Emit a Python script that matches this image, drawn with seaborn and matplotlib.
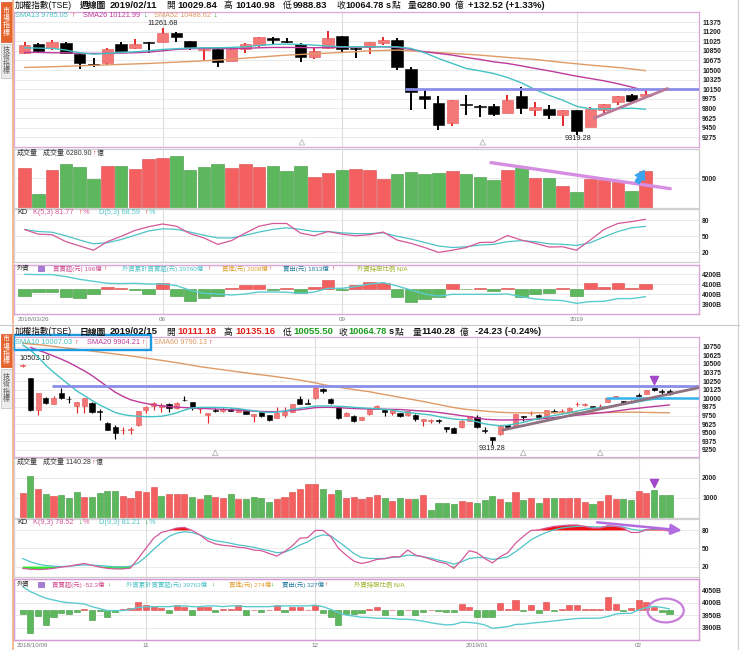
import numpy as np
import matplotlib
matplotlib.use("Agg")
import matplotlib.pyplot as plt
from matplotlib.patches import Rectangle, Ellipse
from matplotlib.lines import Line2D
import matplotlib.transforms as mtrans
import seaborn as sns

# ======================= WEEKLY (週線圖) DATA =======================
w_open = [10815, 10973, 10906, 10997, 10790, 10607, 10620, 10973, 10894, 11009,
          11015, 11180, 11028, 10857, 10875, 10668, 10875, 10961, 11089, 11016,
          10967, 10741, 10900, 11119, 10894, 10924, 10985, 11046, 10522, 10023,
          9901, 9536, 9883, 9846, 9840, 9719, 10023, 9767, 9798, 9676,
          9767, 9463, 9767, 9919, 10053, 10029.84]
w_high = [11010, 10997, 11040, 11015, 10802, 10723, 10906, 11003, 11064, 11012,
          11261.68, 11192, 11035, 10878, 10912, 10895, 10997, 11107, 11107, 11089,
          10985, 10894, 11204, 11125, 10894, 11009, 11095, 11083, 10547, 10163,
          10023, 9950, 10053, 9859, 9877, 10041, 10193, 9919, 9859, 9773,
          9773, 9828, 9880, 10030, 10060, 10140.98]
w_low = [10797, 10802, 10863, 10802, 10522, 10547, 10595, 10845, 10881, 10815,
         11010, 11009, 10863, 10681, 10559, 10660, 10802, 10924, 10961, 10985,
         10644, 10705, 10875, 10827, 10711, 10790, 10961, 10498, 9779, 9797,
         9414, 9475, 9676, 9645, 9658, 9710, 9706, 9658, 9615, 9475,
         9319.28, 9457, 9706, 9859, 9920, 9988.83]
w_close = [10955, 10851, 11003, 10815, 10620, 10583, 10888, 10851, 10973, 10990,
           11168, 11107, 10924, 10875, 10650, 10888, 10967, 11095, 11046, 11009,
           10741, 10851, 11083, 10875, 10888, 11003, 11046, 10559, 10102, 9980,
           9493, 9950, 9871, 9840, 9706, 9950, 9810, 9828, 9676, 9767,
           9390, 9786, 9877, 10023, 9932, 10064.78]
w_sma13 = [10906, 10900, 10894, 10864, 10815, 10790, 10803, 10821, 10833, 10851,
           10876, 10888, 10900, 10906, 10906, 10912, 10924, 10949, 10967, 10973,
           10967, 10955, 10937, 10924, 10924, 10924, 10924, 10924, 10894, 10815,
           10711, 10620, 10529, 10486, 10437, 10364, 10267, 10145, 10041, 9950,
           9840, 9792, 9792, 9798, 9805, 9785.05]
w_sma26 = [10821, 10821, 10815, 10815, 10803, 10803, 10803, 10809, 10815, 10827,
           10851, 10876, 10888, 10894, 10894, 10888, 10894, 10906, 10912, 10912,
           10912, 10906, 10912, 10918, 10918, 10924, 10924, 10912, 10876, 10833,
           10803, 10772, 10730, 10693, 10650, 10620, 10577, 10529, 10486, 10437,
           10388, 10346, 10303, 10250, 10190, 10121.99]
w_sma52 = [10547, 10553, 10560, 10568, 10577, 10585, 10594, 10603, 10611, 10620,
           10632, 10644, 10656, 10668, 10681, 10699, 10717, 10735, 10754, 10772,
           10784, 10796, 10809, 10821, 10833, 10851, 10857, 10864, 10848, 10833,
           10818, 10803, 10788, 10772, 10751, 10730, 10711, 10693, 10666, 10638,
           10614, 10590, 10568, 10547, 10520, 10488.62]
w_volume = [6759, 2272, 6475, 7441, 6986, 4942, 7043, 7043, 6589, 8293,
            8463, 8861, 6475, 6930, 7384, 6759, 7441, 6873, 7157, 6305,
            7043, 5282, 5907, 6362, 6589, 6362, 4885, 5680, 6078, 5680,
            5964, 6248, 5737, 5282, 4658, 6362, 6702, 5055, 5112, 3692,
            2670, 4885, 4771, 4430, 2897, 6280.90]
w_vol_color = "RGRGGGRGRR" "RGGGGRRRGG" "GRRGRRRGGG" "GRGGGRGRGR" "GRRRGR"
w_k = [62.7, 54, 53, 40, 32, 24, 40, 50, 61, 68, 73, 69, 55, 47, 35, 42, 56, 69, 74, 74,
       56, 51, 59, 54, 51, 53, 58, 43, 37, 29, 20, 24, 29, 38.5, 39, 51.5, 43, 37, 30, 30.5,
       24, 43, 63, 74, 77.5, 81.77]
w_d = [62.7, 59, 57.7, 51, 43, 36, 38, 44, 52, 60, 64, 63, 58, 52, 47, 47, 52, 58, 63, 66,
       63, 59, 59, 56.5, 55, 55, 56.5, 50, 45, 38.5, 32, 29, 30.5, 33.6, 35, 40, 42, 40, 36, 35,
       33, 38, 49, 59, 66, 68.59]
w_fnet = [-260, -130, -104, -300, -338, -208, 91, 52, -26, -208, 221, -260, -468, -338, -260,
          52, 143, 143, -26, 39, -169, 91, 351, -52, 143, 286, 221, -300, -494, -403, -300,
          195, -13, 52, -65, 39, -325, -195, -143, 26, -260, 221, 91, 247, 52, 196]
w_fcum = [4200, 4197, 4197, 4177, 4150, 4130, 4110, 4107, 4110, 4103, 4103, 4087, 4040, 4010,
          4003, 3993, 4003, 4023, 4023, 4020, 4010, 4023, 4060, 4060, 4077, 4103, 4117, 4083,
          4043, 4003, 3983, 4000, 4000, 4000, 4000, 4003, 3977, 3953, 3943, 3937, 3910, 3927,
          3930, 3957, 3957, 3976]
w_month_idx = [10, 23, 40]
w_month_lbl = ["06", "09", "2019"]
w_first_lbl = "2018/03/26"
w_price_ticks = [11375, 11200, 11025, 10850, 10675, 10500, 10325, 10150, 9975, 9800, 9625, 9450, 9275]
w_vol_ticks = [5000]
kd_ticks = [80, 50, 20]
w_f_ticks = [4200, 4100, 4000, 3900]
w_hline_val, w_hline_start = 10160, 27.6
w_trend_x, w_trend_y = [41.3, 46.6], [9627, 10163]
w_vtrend_x, w_vtrend_y = [33.8, 46.8], [7671, 3219]
w_varrow_x, w_varrow_y = [44.4, 44.9], [4247, 6301]
w_caret_idx = [20.1, 33.2]
w_hi_idx, w_lo_idx = 10, 40

# ======================= DAILY (日線圖) DATA =======================
d_open = [10470, 10291, 9831, 10010, 9918, 10073, 9995, 9890, 9889, 9937,
          9815, 9637, 9589, 9535, 9540, 9613, 9831, 9889, 9870, 9918,
          9855, 9980, 9952, 9840, 9758, 9825, 9820, 9845, 9807, 9811,
          9744, 9797, 9753, 9710, 9753, 9802, 9986, 9930, 9999, 10141,
          9986, 9870, 9748, 9744, 9686, 9768, 9850, 9831, 9782, 9782,
          9753, 9758, 9676, 9676, 9683, 9579, 9565, 9579, 9676, 9734,
          9535, 9444, 9482, 9608, 9598, 9748, 9785, 9758, 9724, 9810,
          9810, 9807, 9915, 9912, 9889, 9884, 9952, 10024, 9966, 9955,
          10053, 10063, 10145, 10100, 10111.18]
d_high = [10503.10, 10295, 10075, 10024, 10034, 10145, 10034, 9952, 10000, 9940,
          9840, 9661, 9613, 9580, 9580, 9821, 9889, 9952, 9928, 9937,
          9940, 10034, 9952, 9879, 9792, 9855, 9879, 9860, 9855, 9831,
          9773, 9807, 9758, 9870, 9870, 9925, 10034, 9986, 10179, 10145,
          10000, 9879, 9807, 9758, 9728, 9845, 9903, 9831, 9840, 9782,
          9821, 9773, 9705, 9695, 9695, 9579, 9579, 9686, 9748, 9758,
          9579, 9444, 9598, 9618, 9775, 9748, 9821, 9773, 9835, 9840,
          9840, 9870, 9947, 9937, 9889, 9918, 10003, 10034, 9966, 9976,
          10073, 10123, 10155, 10135, 10135.16]
d_low = [10450, 9820, 9758, 9925, 9915, 9995, 9937, 9792, 9782, 9792,
         9686, 9540, 9405, 9482, 9482, 9599, 9782, 9831, 9807, 9807,
         9850, 9966, 9831, 9782, 9637, 9807, 9807, 9811, 9805, 9773,
         9661, 9734, 9676, 9710, 9724, 9800, 9915, 9920, 9995, 10083,
         9918, 9695, 9744, 9657, 9680, 9765, 9840, 9744, 9758, 9734,
         9744, 9676, 9603, 9647, 9647, 9516, 9490, 9575, 9666, 9565,
         9492, 9319.28, 9468, 9575, 9589, 9676, 9758, 9695, 9720, 9792,
         9782, 9805, 9889, 9889, 9855, 9870, 9950, 10010, 9918, 9928,
         10034, 10060, 10111, 10070, 10055.50]
d_close = [10480, 9831, 10073, 9928, 10000, 10000, 9985, 9952, 10000, 9807,
           9800, 9540, 9492, 9545, 9550, 9821, 9870, 9928, 9903, 9855,
           9937, 9976, 9855, 9850, 9792, 9820, 9850, 9817, 9850, 9773,
           9773, 9744, 9686, 9792, 9802, 9918, 9918, 9926, 10155, 10112,
           9937, 9710, 9792, 9671, 9724, 9840, 9889, 9807, 9831, 9744,
           9821, 9695, 9705, 9680, 9678, 9550, 9492, 9676, 9744, 9579,
           9530, 9395, 9598, 9579, 9773, 9724, 9792, 9724, 9831, 9806,
           9816, 9865, 9918, 9916, 9870, 9890, 10000, 10029, 9947, 9960,
           10039, 10121, 10121, 10089, 10064.78]
d_sma10 = [10775, 10700, 10600, 10480, 10380, 10290, 10200, 10110, 10040, 9970,
           9903, 9850, 9795, 9765, 9748, 9740, 9734, 9734, 9740, 9760,
           9790, 9830, 9860, 9869, 9869, 9869, 9866, 9860, 9850, 9835,
           9820, 9800, 9795, 9800, 9815, 9840, 9855, 9870, 9889, 9889,
           9889, 9884, 9879, 9870, 9862, 9855, 9850, 9840, 9830, 9807,
           9795, 9783, 9770, 9758, 9735, 9715, 9700, 9690, 9686, 9660,
           9630, 9613, 9600, 9610, 9630, 9650, 9680, 9705, 9730, 9750,
           9770, 9790, 9815, 9840, 9855, 9865, 9880, 9900, 9915, 9930,
           9950, 9970, 9985, 9995, 10007.03]
d_sma20 = [np.nan, 10740, 10700, 10660, 10615, 10570, 10520, 10460, 10400, 10330,
           10250, 10170, 10090, 10030, 9980, 9950, 9925, 9905, 9892, 9880,
           9872, 9866, 9860, 9855, 9850, 9845, 9840, 9833, 9828, 9822,
           9815, 9810, 9807, 9807, 9812, 9825, 9835, 9850, 9865, 9869,
           9869, 9865, 9858, 9852, 9848, 9845, 9843, 9842, 9840, 9838,
           9830, 9822, 9815, 9808, 9795, 9780, 9765, 9748, 9735, 9715,
           9697, 9690, 9686, 9686, 9688, 9690, 9694, 9700, 9710, 9720,
           9732, 9744, 9755, 9765, 9778, 9790, 9800, 9815, 9830, 9845,
           9857, 9870, 9882, 9893, 9904.21]
d_sma60 = [10800, 10790, 10780, 10768, 10755, 10740, 10726, 10713, 10700, 10686,
           10672, 10658, 10645, 10630, 10615, 10600, 10584, 10568, 10552, 10535,
           10518, 10500, 10480, 10460, 10445, 10430, 10415, 10400, 10385, 10370,
           10355, 10342, 10328, 10313, 10298, 10282, 10266, 10245, 10225, 10200,
           10180, 10162, 10145, 10128, 10112, 10097, 10075, 10055, 10035, 10015,
           9995, 9975, 9955, 9932, 9910, 9888, 9866, 9848, 9835, 9825,
           9815, 9805, 9797, 9793, 9790, 9789, 9789, 9790, 9790, 9791,
           9791, 9792, 9792, 9792, 9792, 9792, 9794, 9796, 9798, 9800,
           9798, 9796, 9794, 9792, 9790.13]
d_volume = [1233, 2067, 1450, 1200, 1083, 1150, 983, 1267, 1050, 1050,
            1233, 1317, 1317, 1083, 1000, 1317, 1267, 1550, 1083, 1200,
            1200, 1200, 1033, 917, 1150, 1050, 1000, 1200, 933, 933,
            1017, 1000, 767, 917, 1033, 1283, 1417, 1700, 1700, 1450,
            1200, 1400, 1000, 1017, 917, 1033, 1150, 983, 817, 983,
            933, 950, 1117, 400, 717, 717, 700, 833, 767, 733,
            900, 1083, 917, 800, 1267, 867, 967, 717, 1000, 967,
            983, 967, 967, 800, 683, 850, 1150, 950, 917, 900,
            1333, 1233, 1383, 1150, 1140.28]
d_vol_color = ("RGRGRGGGRG" "GGGRRRRRGR" "RRGRGRRGRG" "GGGRRRRRRG" "RGRRRRRGRG"
               "RGRGGGGRRG" "GGRGRGRGRG" "RRRRGRRRGG" "RRGGG")
d_k = [17, 15.5, 15, 15.5, 17, 19, 20.5, 23, 25, 22,
       19, 17, 16, 16, 17.5, 33.4, 50.3, 67, 76.6, 80,
       84, 85, 80, 72.7, 63, 57.6, 55.3, 54.2, 52, 50.8,
       47.5, 46.3, 41.8, 37.4, 44.7, 54.2, 67, 68, 80, 80,
       70, 50.3, 39, 29, 25, 27.8, 31.8, 32.9, 36.2, 36.2,
       47.5, 39, 36.2, 31.8, 27.8, 25, 17, 30.6, 46.3, 43,
       33.4, 26, 36.2, 43, 58.7, 70, 80, 81, 84, 86.7,
       87.9, 89, 89, 86.7, 84, 84, 87.9, 86.7, 84, 76.6,
       76.6, 81, 83.4, 82, 78.52]
d_d = [33.4, 27.8, 23.9, 21.7, 20.5, 20, 20.5, 21.7, 22.8, 22.2,
       21.7, 20.5, 19.4, 19.4, 20.5, 26, 36.2, 48.6, 59.8, 70,
       75.5, 77.8, 76.6, 72.7, 67, 63, 61, 58.7, 55.9, 54.2,
       52, 49, 46.3, 43, 44, 48.6, 55.9, 61, 68.8, 72.7,
       71, 61.5, 52, 41.8, 35, 33.4, 33.4, 33.4, 35, 36.2,
       39, 38, 36.2, 34, 30.6, 27.8, 23.9, 27.8, 33.4, 35,
       35, 31.8, 33.4, 36.2, 44.7, 54.2, 64.3, 71, 76.6, 81,
       84, 85.6, 86.7, 86.7, 86, 85.6, 86.7, 86.7, 85.6, 82.2,
       80, 81, 82.2, 82.2, 81.21]
d_fnet = [-57, -343, -83, -224, -94, -42, -52, -16, 21, -146,
          -10, -94, -21, 16, 36, 125, 83, 73, 36, -42,
          78, 62, -68, 47, 62, -16, 16, 21, 78, -68,
          10, -16, 10, 78, -31, 62, 62, 10, 78, -42,
          -94, -224, -52, -52, -42, 21, 62, -68, 10, -68,
          10, -68, -31, 10, -10, -31, -31, 104, 62, -94,
          -94, -94, 114, 16, 166, -5, 88, -42, 130, -10,
          31, 83, 83, 31, 31, 31, 208, 94, -10, 42,
          166, 130, 62, -16, -52.3]
d_fcum = [4066, 4046, 4032, 4019, 4012, 4005, 4001, 3999, 3996, 3985,
          3977, 3969, 3969, 3969, 3974, 3982, 3985, 3985, 3985, 3985,
          3988, 3988, 3985, 3985, 3988, 3988, 3985, 3988, 3988, 3985,
          3985, 3985, 3985, 3988, 3988, 3988, 3988, 3988, 3991, 3985,
          3974, 3961, 3951, 3947, 3942, 3941, 3938, 3938, 3937, 3934,
          3934, 3931, 3926, 3920, 3915, 3911, 3913, 3922, 3921, 3918,
          3911, 3897, 3901, 3904, 3913, 3914, 3918, 3921, 3924, 3927,
          3931, 3934, 3937, 3938, 3938, 3939, 3945, 3955, 3958, 3958,
          3972, 3981, 3986, 3982, 3976]
d_month_idx = [16, 38, 59, 80]
d_month_lbl = ["11", "12", "2019/01", "02"]
d_first_lbl = "2018/10/09"
d_price_ticks = [10750, 10625, 10500, 10375, 10250, 10125, 10000, 9875, 9750, 9625, 9500, 9375, 9250]
d_vol_ticks = [2000, 1000]
d_f_ticks = [4050, 4000, 3950, 3900]
d_hline_val, d_hline_start = 10175, 3.8
d_blue_val, d_blue_start = 10010, 75.8
d_trend_x, d_trend_y = [62.4, 87.8], [9541, 10155]
d_kd_arrow_x, d_kd_arrow_y = [74.6, 85.6], [93.5, 80]
d_mark_idx, d_mark_price, d_mark_vol = 82, 10266, 1735
d_circle_idx = 83.5
d_caret_idx = [25, 65, 75]
d_hi_idx, d_lo_idx = 0, 61

# ======================= STYLE =======================
sns.set_style("white")
plt.rcParams['font.family'] = ['Liberation Sans', 'Noto Sans CJK TC', 'DejaVu Sans']
plt.rcParams['axes.unicode_minus'] = False

RED_BODY, RED_WICK, RED_EDGE = '#f47878', '#e8262a', '#e25555'
VRED, VRED_E, VGREEN, VGREEN_E = '#f45f5f', '#d84848', '#5db85d', '#3f963f'
CY, MG, OR = '#45c1c4', '#bd3a9c', '#df9a66'
KP, KC = '#d4589a', '#4ec3c6'
HL = '#8b8ee8'
TRED, TGREEN = '#e3201b', '#1a9c1a'
PANEL_EDGE, PRICE_EDGE = '#cfcfcf', '#d8a8d8'

W, H = 740, 650
fig = plt.figure(figsize=(W / 100, H / 100), dpi=100)
fig.patch.set_facecolor('white')


def px_ax(x0, y0, x1, y1):
    return fig.add_axes([x0 / W, 1 - y1 / H, (x1 - x0) / W, (y1 - y0) / H])


def ftext(x, y, s, size=5.3, color='#222222', weight='normal', ha='left', **kw):
    fig.text(x / W, 1 - y / H, s, fontsize=size, color=color, fontweight=weight,
             ha=ha, va='center', **kw)


def frect(x0, y0, x1, y1, **kw):
    fig.add_artist(Rectangle((x0 / W, 1 - y1 / H), (x1 - x0) / W, (y1 - y0) / H,
                             transform=fig.transFigure, **kw))


def fline(x0, y0, x1, y1, **kw):
    fig.add_artist(Line2D([x0 / W, x1 / W], [1 - y0 / H, 1 - y1 / H],
                          transform=fig.transFigure, **kw))


def style(ax, xlim, ylim, edge, ticks=None, labels=None):
    ax.set_xlim(*xlim)
    ax.set_ylim(*ylim)
    ax.set_facecolor('none')
    for sp in ax.spines.values():
        sp.set_visible(True)
        sp.set_color(edge)
        sp.set_linewidth(0.9)
    ax.set_xticks([])
    ax.yaxis.tick_right()
    if ticks is None:
        ax.set_yticks([])
    else:
        ax.set_yticks(ticks)
        ax.set_yticklabels(labels if labels else [str(t) for t in ticks],
                           fontsize=4.9, fontweight='bold', color='#222222')
    ax.tick_params(axis='y', length=0, pad=2.2, left=False, right=False)
    ax.set_xlabel('')
    ax.set_ylabel('')
    ax.grid(False)


def hgrid(ax, vals):
    for v in vals:
        ax.axhline(v, color='#e6e6e6', lw=0.6, zorder=0)


def vgrid(ax, idxs):
    for i in idxs:
        ax.axvline(i, color='#dddddd', lw=0.8, zorder=0)


def candles(ax, o, h, l, c, width, wick_lw, min_body):
    o, h, l, c = (np.asarray(a, float) for a in (o, h, l, c))
    idx = np.arange(len(o))
    up = c >= o
    ax.vlines(idx, l, h, colors=np.where(up, RED_WICK, 'black'), linewidth=wick_lw, zorder=3)
    height = np.maximum(np.abs(c - o), min_body)
    bottom = (o + c) / 2 - height / 2
    ax.bar(idx, height, width=width, bottom=bottom,
           color=list(np.where(up, RED_BODY, 'black')),
           edgecolor=list(np.where(up, RED_EDGE, 'black')), linewidth=0.4, zorder=4)


def vol_bars(ax, vol, colors, width):
    idx = np.arange(len(vol))
    ax.bar(idx, vol, width=width,
           color=[VRED if ch == 'R' else VGREEN for ch in colors],
           edgecolor=[VRED_E if ch == 'R' else VGREEN_E for ch in colors],
           linewidth=0.4, zorder=2)


def fnet_bars(ax, net, width):
    net = np.asarray(net, float)
    idx = np.arange(len(net))
    ax.bar(idx, net, width=width,
           color=[VRED if v > 0 else VGREEN for v in net],
           edgecolor=[VRED_E if v > 0 else VGREEN_E for v in net],
           linewidth=0.4, zorder=2)


def line(ax, x, y, color, lw=0.9, z=5):
    sns.lineplot(x=np.asarray(x, float), y=np.asarray(y, float), ax=ax, color=color,
                 linewidth=lw, zorder=z, legend=False)
    ax.set_xlabel('')
    ax.set_ylabel('')


def carets(ax, idxs):
    tr = mtrans.blended_transform_factory(ax.transData, ax.transAxes)
    ax.scatter(idxs, [0.035] * len(idxs), transform=tr, marker='^', s=16,
               facecolors='none', edgecolors='#b5b5b5', linewidths=0.6, zorder=6)


def date_labels(ax, first_lbl, idxs, lbls, ypos):
    tr = mtrans.blended_transform_factory(ax.transData, ax.transAxes)
    ax.annotate(first_lbl, xy=(0, ypos), xycoords=tr, xytext=(-4.7, 0),
                textcoords='offset points', fontsize=4.5, color='#777777',
                ha='left', va='center', annotation_clip=False)
    for i, s in zip(idxs, lbls):
        ax.text(i, ypos, s, transform=tr, fontsize=4.5, color='#777777',
                ha='center', va='center', clip_on=False)


# ======================= CHROME (tabs, separators) =======================
fline(12.5, 0, 12.5, 324, color='#f0a878', lw=1.1)
fline(12.5, 326, 12.5, 650, color='#f0a878', lw=1.1)
fline(0, 325, 740, 325, color='#c8c8c8', lw=0.8)
fline(737.5, 0, 737.5, 650, color='#d0d0d0', lw=0.8)
for (y0, y1, y2, y3) in [(2, 42, 44, 78), (334, 367, 369, 408)]:
    frect(0.5, y0, 11.5, y1, facecolor='#e5642e', edgecolor='#d85020', lw=0.5)
    ftext(6, (y0 + y1) / 2, "市\n場\n指\n標", size=5.0, color='white', ha='center',
          linespacing=1.05)
    frect(0.5, y2, 11.5, y3, facecolor='#ececec', edgecolor='#bdbdbd', lw=0.5)
    ftext(6, (y2 + y3) / 2, "技\n術\n指\n標", size=5.0, color='#555555', ha='center',
          linespacing=1.05)

# ======================= HEADERS =======================
def header(y, parts):
    for x, s, col, bold, size in parts:
        ftext(x, y, s, size=size, color=col, weight='bold' if bold else 'normal')

K = '#111111'
header(5.5, [(15, "加權指數(TSE)", K, False, 6.2), (80, "週線圖", K, True, 6.3),
             (110, "2019/02/11", K, True, 6.8), (166, "開", K, False, 6.3),
             (177, "10029.84", K, True, 6.8), (224, "高", K, False, 6.3),
             (235, "10140.98", K, True, 6.8), (283, "低", K, False, 6.3),
             (293, "9988.83", K, True, 6.8), (336, "收", K, False, 6.3),
             (345, "10064.78", K, True, 6.6), (386, "s", K, True, 6.6),
             (392, "點", K, False, 6.3), (408, "量", K, False, 6.3),
             (417, "6280.90", K, True, 6.8), (455, "億", K, False, 6.3),
             (468, "+132.52 (+1.33%)", K, True, 6.8)])
header(332, [(15, "加權指數(TSE)", K, False, 6.2), (80, "日線圖", K, True, 6.3),
             (110, "2019/02/15", K, True, 6.8), (166, "開", K, False, 6.3),
             (177, "10111.18", TRED, True, 6.8), (224, "高", K, False, 6.3),
             (235, "10135.16", TRED, True, 6.8), (283, "低", K, False, 6.3),
             (293, "10055.50", TGREEN, True, 6.8), (338, "收", K, False, 6.3),
             (348, "10064.78", TGREEN, True, 6.6), (389, "s", K, True, 6.6),
             (395, "點", K, False, 6.3), (413, "量", K, False, 6.3),
             (421, "1140.28", K, True, 6.8), (460, "億", K, False, 6.3),
             (475, "-24.23 (-0.24%)", K, True, 6.8)])

# ======================= WEEKLY PANELS =======================
w_idx = np.arange(len(w_close))
wx = ((14 - 24.5) / 13.8, (699 - 24.5) / 13.8)

# price
ax = px_ax(14, 12, 699, 147)
hgrid(ax, w_price_ticks)
vgrid(ax, w_month_idx)
line(ax, w_idx, w_sma52, OR, 1.0)
line(ax, w_idx, w_sma26, MG, 1.0)
line(ax, w_idx, w_sma13, CY, 1.0)
candles(ax, w_open, w_high, w_low, w_close, 0.82, 1.4, 16)
ax.hlines(w_hline_val, w_hline_start, wx[1], color=HL, lw=2.0, zorder=6)
line(ax, w_trend_x, w_trend_y, '#b87a98', 2.0, 7)
carets(ax, w_caret_idx)
ax.annotate(f"{w_high[w_hi_idx]:.2f}", xy=(w_hi_idx, w_high[w_hi_idx]), xytext=(0, 0.6),
            textcoords='offset points', ha='center', va='bottom', fontsize=5.3, color='#222')
ax.annotate(f"{w_low[w_lo_idx]:.2f}", xy=(w_lo_idx, w_low[w_lo_idx]), xytext=(1, 0.2),
            textcoords='offset points', ha='center', va='top', fontsize=5.3, color='#222')
style(ax, wx, (9097, 11558), PRICE_EDGE, w_price_ticks)

# volume
ax = px_ax(14, 149, 699, 207.5)
hgrid(ax, w_vol_ticks)
vgrid(ax, w_month_idx)
vol_bars(ax, w_volume, w_vol_color, 0.92)
line(ax, w_vtrend_x, w_vtrend_y, '#d68ee2', 2.4, 6)
ax.annotate('', xy=(w_varrow_x[1], w_varrow_y[1]), xytext=(w_varrow_x[0], w_varrow_y[0]),
            arrowprops=dict(arrowstyle='simple,head_width=1.3,head_length=1.0,tail_width=0.55',
                            color='#3aa5ec', mutation_scale=6, shrinkA=0, shrinkB=0), zorder=7)
style(ax, wx, (0, 10000), PANEL_EDGE, w_vol_ticks)

# KD
ax = px_ax(14, 208.5, 699, 262)
hgrid(ax, kd_ticks)
vgrid(ax, w_month_idx)
line(ax, w_idx, w_d, KC, 0.9)
line(ax, w_idx, w_k, KP, 0.9)
style(ax, wx, (2, 102), PANEL_EDGE, kd_ticks)

# foreign investors
axb = px_ax(14, 265, 699, 314)
wfb_lim, wfc_lim = (-975, 936), (3803, 4293)
hgrid(axb, [wfb_lim[0] + (t - wfc_lim[0]) / (wfc_lim[1] - wfc_lim[0]) * (wfb_lim[1] - wfb_lim[0])
            for t in w_f_ticks])
vgrid(axb, w_month_idx)
fnet_bars(axb, w_fnet, 0.92)
style(axb, wx, wfb_lim, PRICE_EDGE)
axc = axb.twinx()
line(axc, w_idx, w_fcum, '#5ccbd0', 1.0)
style(axc, wx, wfc_lim, PRICE_EDGE, w_f_ticks, [f"{t}B" for t in w_f_ticks])
date_labels(axb, w_first_lbl, w_month_idx, w_month_lbl, -0.11)

# ======================= DAILY PANELS =======================
d_idx = np.arange(len(d_close))
dx = ((14 - 22.7) / 7.7, (699 - 22.7) / 7.7)

# price
ax = px_ax(14, 337, 699, 457)
hgrid(ax, d_price_ticks)
vgrid(ax, d_month_idx)
line(ax, d_idx, d_sma60, OR, 1.0)
line(ax, d_idx, d_sma20, MG, 1.0)
line(ax, d_idx, d_sma10, CY, 1.0)
candles(ax, d_open, d_high, d_low, d_close, 0.66, 0.85, 9)
ax.hlines(d_hline_val, d_hline_start, dx[1], color=HL, lw=2.0, zorder=6)
ax.hlines(d_blue_val, d_blue_start, dx[1], color='#37b3ea', lw=1.8, zorder=6)
line(ax, d_trend_x, d_trend_y, '#8e7282', 2.0, 7)
ax.scatter([d_mark_idx], [d_mark_price], marker='v', s=34, color='#a447c9', zorder=8)
carets(ax, d_caret_idx)
ax.annotate(f"{d_high[d_hi_idx]:.2f}", xy=(d_hi_idx, d_high[d_hi_idx]), xytext=(-2.5, 1.2),
            textcoords='offset points', ha='left', va='bottom', fontsize=5.3, color='#222')
ax.annotate(f"{d_low[d_lo_idx]:.2f}", xy=(d_lo_idx, d_low[d_lo_idx]), xytext=(0, 0.2),
            textcoords='offset points', ha='center', va='top', fontsize=5.3, color='#222')
style(ax, dx, (9148, 10891), PRICE_EDGE, d_price_ticks)

# volume
ax = px_ax(14, 458, 699, 517.7)
hgrid(ax, d_vol_ticks)
vgrid(ax, d_month_idx)
vol_bars(ax, d_volume, d_vol_color, 0.8)
ax.scatter([d_mark_idx], [d_mark_vol], marker='v', s=34, color='#a447c9', zorder=8)
style(ax, dx, (0, 2985), PANEL_EDGE, d_vol_ticks)

# KD
ax = px_ax(14, 519, 699, 577)
hgrid(ax, kd_ticks)
vgrid(ax, d_month_idx)
kk = np.asarray(d_k, float)
ax.fill_between(d_idx, 80, kk, where=kk >= 80, interpolate=True, color='#f01010', lw=0, zorder=2)
ax.fill_between(d_idx, 20, kk, where=kk <= 20, interpolate=True, color='#2ee82e', lw=0, zorder=2)
line(ax, d_idx, d_d, KC, 0.9)
line(ax, d_idx, d_k, KP, 0.9)
ax.annotate('', xy=(d_kd_arrow_x[1], d_kd_arrow_y[1]), xytext=(d_kd_arrow_x[0], d_kd_arrow_y[0]),
            arrowprops=dict(arrowstyle='-|>,head_width=0.45,head_length=0.9', color='#b36be0',
                            lw=1.8, mutation_scale=7, shrinkA=0, shrinkB=0),
            annotation_clip=False, zorder=8)
style(ax, dx, (2.6, 99), PANEL_EDGE, kd_ticks)

# foreign investors
axb = px_ax(14, 579, 699, 640)
dfb_lim, dfc_lim = (-458, 489), (3850, 4097)
hgrid(axb, [dfb_lim[0] + (t - dfc_lim[0]) / (dfc_lim[1] - dfc_lim[0]) * (dfb_lim[1] - dfb_lim[0])
            for t in d_f_ticks])
vgrid(axb, d_month_idx)
fnet_bars(axb, d_fnet, 0.8)
axb.add_patch(Ellipse((d_circle_idx, 0), 4.7, 370, fill=False, edgecolor='#c77ed8', lw=1.6, zorder=9))
style(axb, dx, dfb_lim, '#d49ad4')
axc = axb.twinx()
line(axc, d_idx, d_fcum, '#5ccbd0', 1.0)
style(axc, dx, dfc_lim, '#d49ad4', d_f_ticks, [f"{t}B" for t in d_f_ticks])
date_labels(axb, d_first_lbl, d_month_idx, d_month_lbl, -0.09)

# ======================= PANEL CAPTIONS =======================
def caption(y, parts, size):
    for x, s, col in parts:
        ftext(x, y, s, size=size, color=col)

caption(15.5, [(15, "SMA13 9785.05", CY), (71, "↑", TRED), (83, "SMA26 10121.99", MG),
               (143, "↓", TGREEN), (154, "SMA52 10488.62", OR), (213, "↓", TGREEN)], 5.3)
caption(153, [(17, "成交量", '#333333'), (43, "成交量 6280.90", '#333333'), (92, "↑", TRED),
              (97, "億", '#333333')], 5.0)
caption(212.5, [(17, "KD", '#222222'), (33, "K(5,3) 81.77", KP), (78, "↑", TRED), (83, "%", KP),
                (99, "D(5,3) 68.59", KC), (144, "↑", TRED), (149, "%", KC)], 5.3)
FP, FO, FB, FG = '#d0508f', '#e0a030', '#2a7fa0', '#9aad1c'
frect(38, 265.8, 43.5, 271.3, facecolor='#a77bd6', edgecolor='#7a4fb0', lw=0.4)
caption(268.5, [(17, "外資", '#222222'), (53, "買賣超(元) 196億", FP), (103, "↑", TRED),
                (122, "外資累計買賣超(元) 39760億", KC), (207, "↑", TRED),
                (222, "買進(元) 2008億", FO), (268, "↑", TRED),
                (283, "賣出(元) 1813億", FB), (331, "↑", TRED),
                (357, "外資持股比例 N/A", FG)], 4.6)

caption(342.5, [(15, "SMA10 10007.03", CY), (74, "↑", TRED), (87, "SMA20 9904.21", MG),
                (141, "↑", TRED), (154, "SMA60 9790.13", OR), (208, "↑", TRED)], 5.3)
frect(14, 334.5, 151, 349.5, fill=False, edgecolor='#1e9be0', lw=1.7)
caption(462.5, [(17, "成交量", '#333333'), (43, "成交量 1140.28", '#333333'), (91, "↑", TRED),
                (96, "億", '#333333')], 5.0)
caption(522.5, [(17, "KD", '#222222'), (33, "K(9,3) 78.52", KP), (78, "↓", TGREEN), (83, "%", KP),
                (99, "D(9,3) 81.21", KC), (144, "↓", TGREEN), (149, "%", KC)], 5.3)
frect(38, 581.8, 43.5, 587.3, facecolor='#a77bd6', edgecolor='#7a4fb0', lw=0.4)
caption(584.5, [(17, "外資", '#222222'), (52, "買賣超(元) -52.3億", FP), (107, "↓", TGREEN),
                (126, "外資累計買賣超(元) 39763億", KC), (211, "↓", TGREEN),
                (229, "買進(元) 274億", FO), (270, "↓", TGREEN),
                (282, "賣出(元) 327億", FB), (324, "↑", TRED),
                (354, "外資持股比例 N/A", FG)], 4.6)

fig.savefig("out.png", dpi=100, facecolor='white')
